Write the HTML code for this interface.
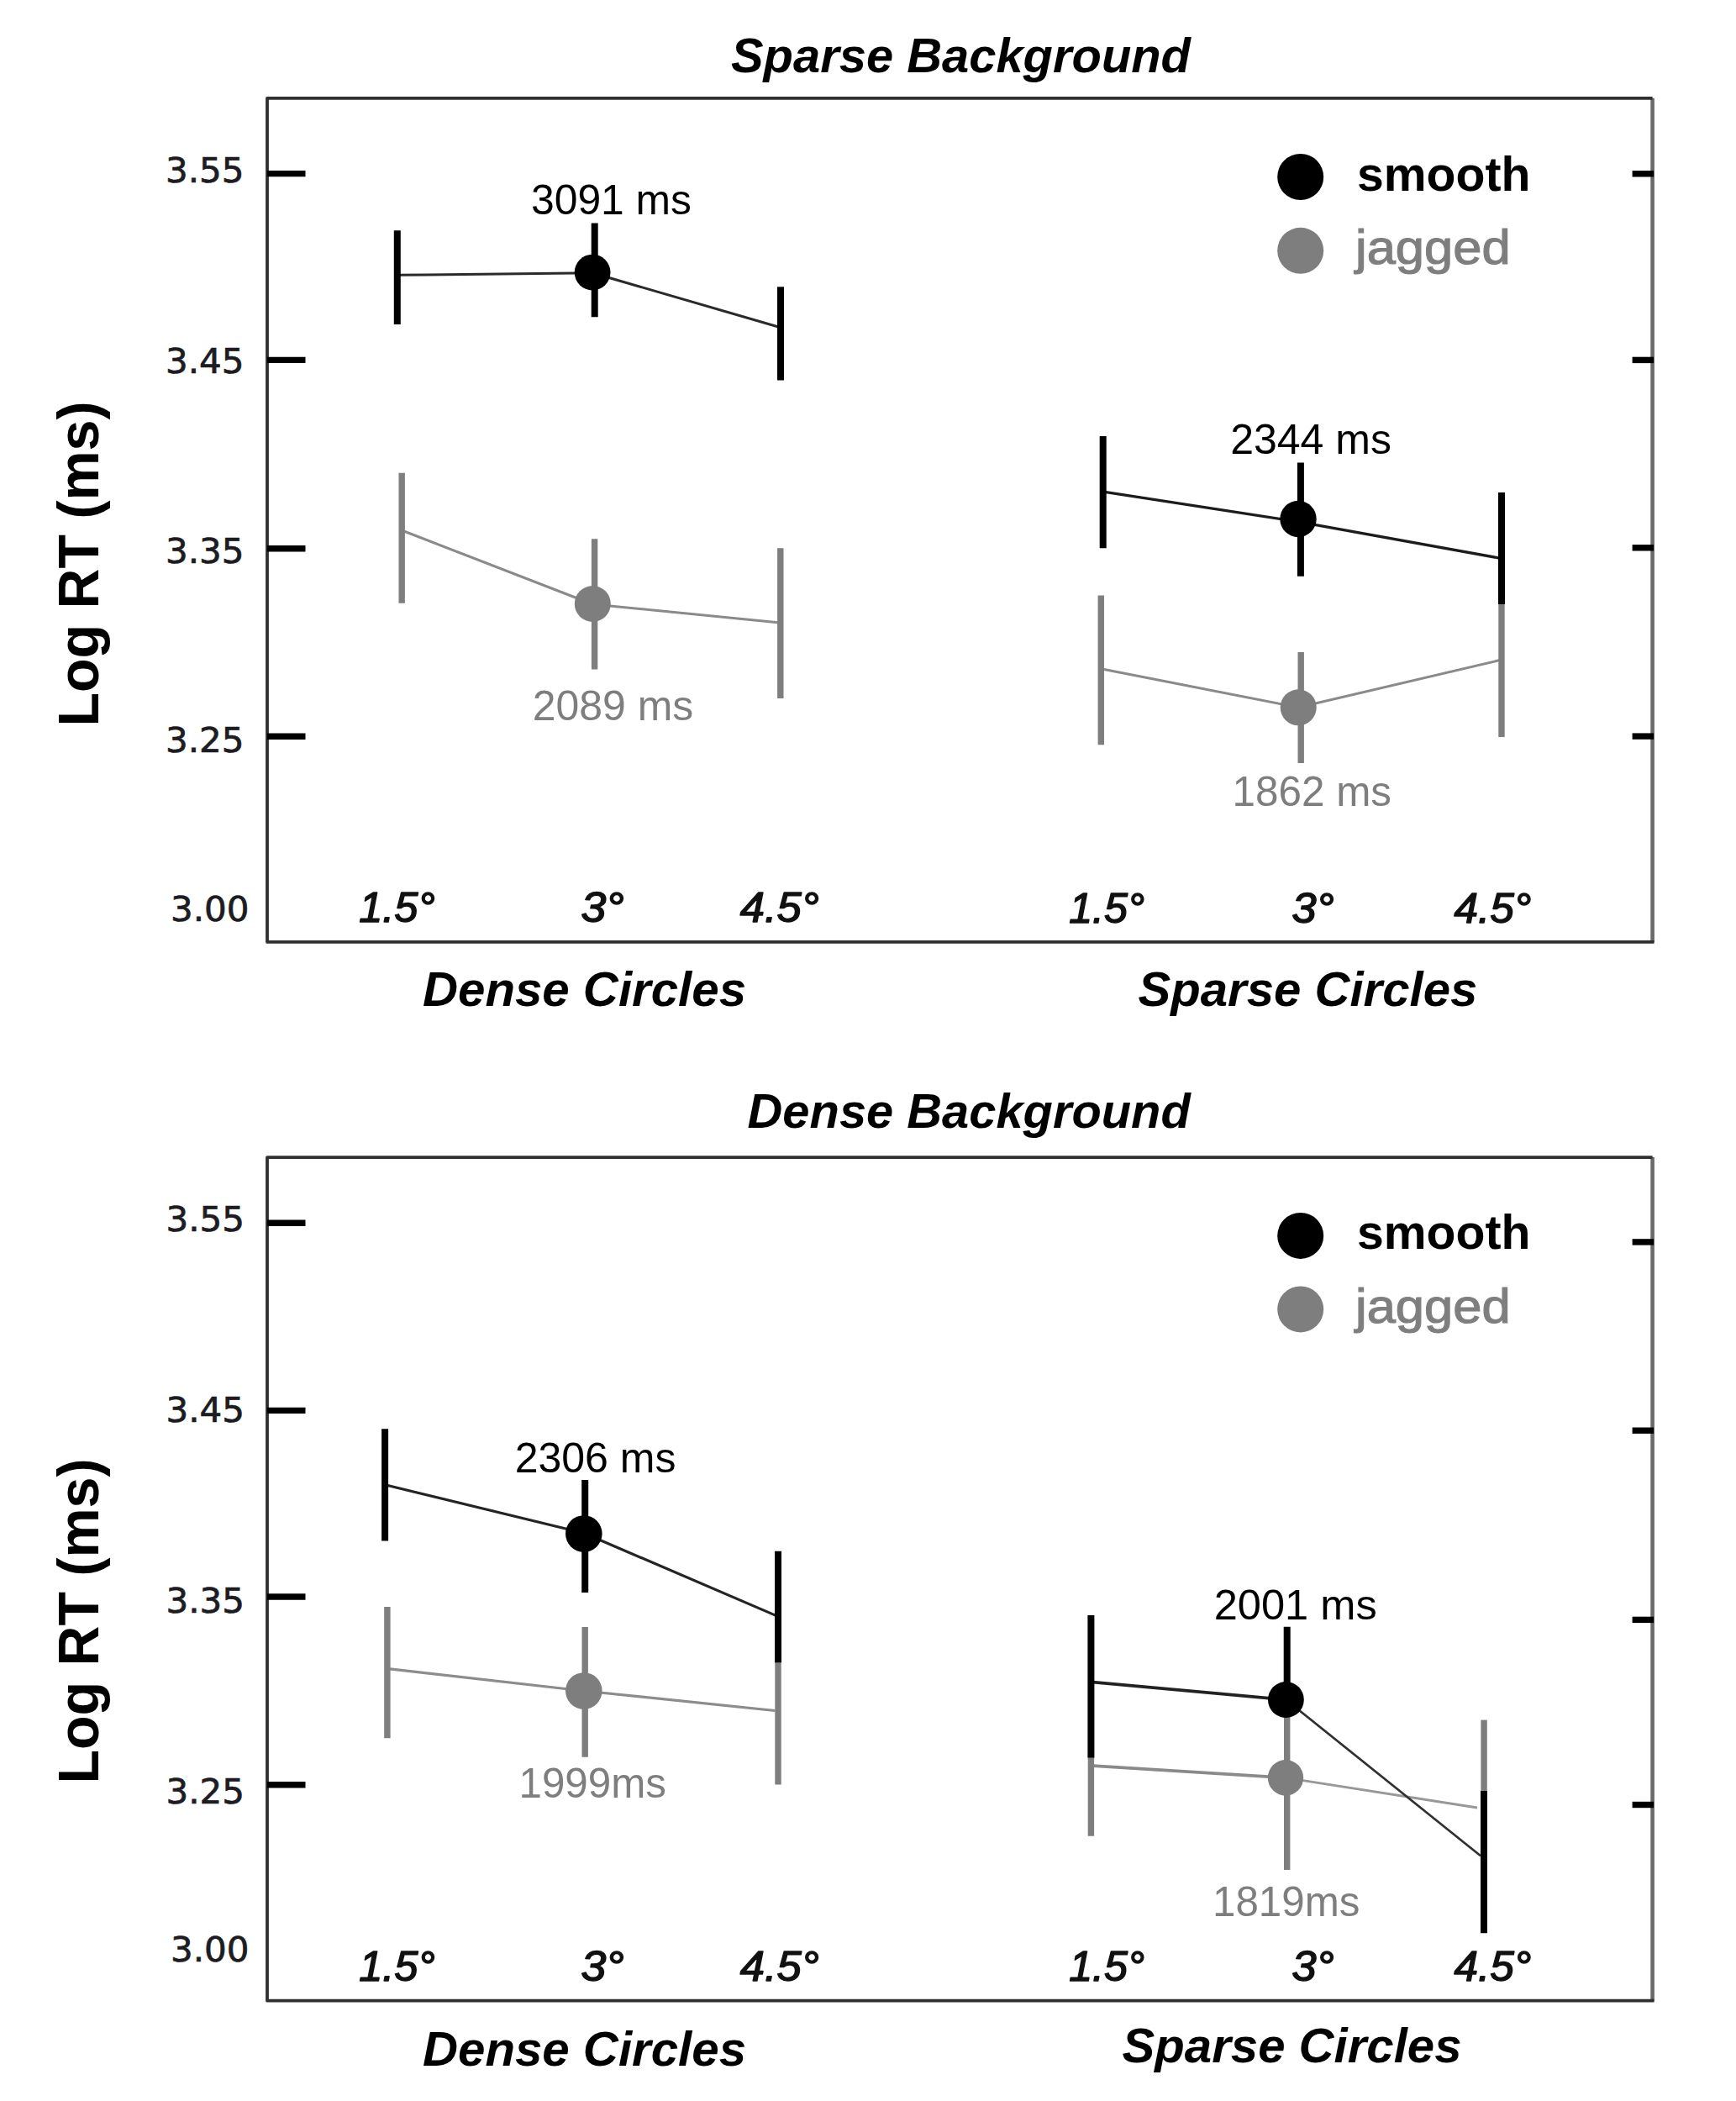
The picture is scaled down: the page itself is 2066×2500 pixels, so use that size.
<!DOCTYPE html>
<html><head><meta charset="utf-8"><title>Log RT chart</title>
<style>
html,body{margin:0;padding:0;background:#fff;}
svg{display:block;}
text{font-family:"Liberation Sans",sans-serif;}
.yt{font-family:"DejaVu Sans","Liberation Sans",sans-serif;font-size:40px;fill:#1c1c22;stroke:#1c1c22;stroke-width:0.7px;}
.xt{font-family:"Liberation Sans",sans-serif;font-size:50px;font-weight:normal;font-style:italic;fill:#111;stroke:#111;stroke-width:1.5px;stroke-linejoin:round;}
.big{font-size:58px;font-weight:bold;font-style:italic;fill:#000;}
.ann{font-size:50px;}
.lgb{font-size:57px;font-weight:bold;fill:#000;}
.lg{font-size:57px;stroke:#808080;stroke-width:1.2px;}
.ylab{font-size:68px;font-weight:bold;fill:#000;}
</style></head><body>
<svg width="2066" height="2500" viewBox="0 0 2066 2500">
<rect width="2066" height="2500" fill="#fff"/>
<line x1="473" y1="327.3" x2="705.2" y2="324.8" stroke="#2a2a2a" stroke-width="3.0" stroke-linecap="butt"/>
<line x1="705.2" y1="324.8" x2="929" y2="389.8" stroke="#2a2a2a" stroke-width="3.0" stroke-linecap="butt"/>
<line x1="478" y1="631" x2="705.4" y2="719" stroke="#8a8a8a" stroke-width="3.0" stroke-linecap="butt"/>
<line x1="705.4" y1="719" x2="928.3" y2="741" stroke="#8a8a8a" stroke-width="3.0" stroke-linecap="butt"/>
<line x1="1313" y1="585.2" x2="1545.2" y2="620.8" stroke="#1c1c1c" stroke-width="3.3" stroke-linecap="butt"/>
<line x1="1545.2" y1="620.8" x2="1786" y2="664.3" stroke="#1c1c1c" stroke-width="3.3" stroke-linecap="butt"/>
<line x1="1312.7" y1="796.2" x2="1545.2" y2="841.8" stroke="#8a8a8a" stroke-width="3.0" stroke-linecap="butt"/>
<line x1="1545.2" y1="841.8" x2="1785" y2="785.5" stroke="#8a8a8a" stroke-width="3.0" stroke-linecap="butt"/>
<line x1="472.8" y1="274.3" x2="472.8" y2="386.1" stroke="#000" stroke-width="8" stroke-linecap="butt"/>
<line x1="707.7" y1="265.4" x2="707.7" y2="377.3" stroke="#000" stroke-width="8" stroke-linecap="butt"/>
<line x1="929" y1="341.3" x2="929" y2="452.5" stroke="#000" stroke-width="8" stroke-linecap="butt"/>
<line x1="478.2" y1="562.8" x2="478.2" y2="717.8" stroke="#7e7e7e" stroke-width="7.4" stroke-linecap="butt"/>
<line x1="707.6" y1="641.2" x2="707.6" y2="796.6" stroke="#7e7e7e" stroke-width="7.4" stroke-linecap="butt"/>
<line x1="928.8" y1="652.3" x2="928.8" y2="831" stroke="#7e7e7e" stroke-width="7.4" stroke-linecap="butt"/>
<line x1="1312.7" y1="519" x2="1312.7" y2="652.3" stroke="#000" stroke-width="8" stroke-linecap="butt"/>
<line x1="1547.9" y1="550.4" x2="1547.9" y2="685.7" stroke="#000" stroke-width="8" stroke-linecap="butt"/>
<line x1="1787" y1="586" x2="1787" y2="719" stroke="#000" stroke-width="8" stroke-linecap="butt"/>
<line x1="1310.3" y1="708.4" x2="1310.3" y2="886.2" stroke="#7e7e7e" stroke-width="7.4" stroke-linecap="butt"/>
<line x1="1548.2" y1="776" x2="1548.2" y2="908" stroke="#7e7e7e" stroke-width="7.4" stroke-linecap="butt"/>
<line x1="1787" y1="719" x2="1787" y2="877" stroke="#7e7e7e" stroke-width="7.4" stroke-linecap="butt"/>
<circle cx="705.1" cy="324.1" r="21.4" fill="#000"/>
<circle cx="705.3" cy="718.5" r="21.5" fill="#7e7e7e"/>
<circle cx="1545" cy="617.5" r="21.7" fill="#000"/>
<circle cx="1545.2" cy="841.8" r="21.5" fill="#7e7e7e"/>
<line x1="1966.6" y1="116.8" x2="1966.6" y2="1120.9" stroke="#6a6a6a" stroke-width="4.6" stroke-linecap="butt"/>
<polyline points="1966.6,116.8 318,116.8 318,1120.9 1968.6,1120.9" fill="none" stroke="#303030" stroke-width="3.8" stroke-linejoin="round"/>
<line x1="318" y1="206.6" x2="363.5" y2="206.6" stroke="#000" stroke-width="7.4" stroke-linecap="butt"/>
<line x1="318" y1="428.4" x2="363.5" y2="428.4" stroke="#000" stroke-width="7.4" stroke-linecap="butt"/>
<line x1="318" y1="652.8" x2="363.5" y2="652.8" stroke="#000" stroke-width="7.4" stroke-linecap="butt"/>
<line x1="318" y1="876.2" x2="363.5" y2="876.2" stroke="#000" stroke-width="7.4" stroke-linecap="butt"/>
<line x1="1942.6" y1="206.8" x2="1968.1" y2="206.8" stroke="#000" stroke-width="7.4" stroke-linecap="butt"/>
<line x1="1942.6" y1="428.4" x2="1968.1" y2="428.4" stroke="#000" stroke-width="7.4" stroke-linecap="butt"/>
<line x1="1942.6" y1="651.8" x2="1968.1" y2="651.8" stroke="#000" stroke-width="7.4" stroke-linecap="butt"/>
<line x1="1942.6" y1="876.1" x2="1968.1" y2="876.1" stroke="#000" stroke-width="7.4" stroke-linecap="butt"/>
<text x="197" y="217.2" class="yt" textLength="93.5" lengthAdjust="spacingAndGlyphs">3.55</text>
<text x="197" y="444.2" class="yt" textLength="93.5" lengthAdjust="spacingAndGlyphs">3.45</text>
<text x="197" y="669.8" class="yt" textLength="93.5" lengthAdjust="spacingAndGlyphs">3.35</text>
<text x="197" y="895.2" class="yt" textLength="93.5" lengthAdjust="spacingAndGlyphs">3.25</text>
<text x="203" y="1096.3" class="yt" textLength="93.5" lengthAdjust="spacingAndGlyphs">3.00</text>
<text x="427.2" y="1097.4" class="xt" textLength="90.5" lengthAdjust="spacingAndGlyphs">1.5°</text>
<text x="691.4" y="1097.4" class="xt" textLength="51.2" lengthAdjust="spacingAndGlyphs">3°</text>
<text x="880.7" y="1097.4" class="xt" textLength="94.0" lengthAdjust="spacingAndGlyphs">4.5°</text>
<text x="1272.2" y="1098" class="xt" textLength="89.8" lengthAdjust="spacingAndGlyphs">1.5°</text>
<text x="1537.6" y="1098" class="xt" textLength="50.0" lengthAdjust="spacingAndGlyphs">3°</text>
<text x="1730.4" y="1098" class="xt" textLength="91.8" lengthAdjust="spacingAndGlyphs">4.5°</text>
<text x="870" y="86.3" class="big" textLength="547" lengthAdjust="spacingAndGlyphs">Sparse Background</text>
<text x="503" y="1197.4" class="big" textLength="385" lengthAdjust="spacingAndGlyphs">Dense Circles</text>
<text x="1354.5" y="1197.4" class="big" textLength="403.8" lengthAdjust="spacingAndGlyphs">Sparse Circles</text>
<text x="632" y="254.7" class="ann" textLength="191" lengthAdjust="spacingAndGlyphs" fill="#000">3091 ms</text>
<text x="633.7" y="857" class="ann" textLength="191.6" lengthAdjust="spacingAndGlyphs" fill="#7e7e7e">2089 ms</text>
<text x="1464.2" y="540.3" class="ann" textLength="191.8" lengthAdjust="spacingAndGlyphs" fill="#000">2344 ms</text>
<text x="1466.5" y="959" class="ann" textLength="189.5" lengthAdjust="spacingAndGlyphs" fill="#7e7e7e">1862 ms</text>
<circle cx="1547.7" cy="210.5" r="27.5" fill="#000"/>
<circle cx="1547.7" cy="298.3" r="27.5" fill="#7e7e7e"/>
<text x="1615" y="226.5" class="lgb" textLength="206.4" lengthAdjust="spacingAndGlyphs">smooth</text>
<text x="1613" y="314.3" class="lg" textLength="184.6" lengthAdjust="spacingAndGlyphs" fill="#7e7e7e">jagged</text>
<text transform="translate(117,671) rotate(-90)" class="ylab" text-anchor="middle" textLength="387" lengthAdjust="spacingAndGlyphs">Log RT (ms)</text>
<line x1="464" y1="1985.8" x2="694.8" y2="2012" stroke="#8c8c8c" stroke-width="3.2" stroke-linecap="butt"/>
<line x1="694.8" y1="2012" x2="922.3" y2="2035.5" stroke="#8c8c8c" stroke-width="3.2" stroke-linecap="butt"/>
<line x1="458.2" y1="1766.8" x2="694.8" y2="1824.2" stroke="#242424" stroke-width="3.2" stroke-linecap="butt"/>
<line x1="694.8" y1="1824.2" x2="924" y2="1922.6" stroke="#242424" stroke-width="3.2" stroke-linecap="butt"/>
<line x1="1300.8" y1="2101.1" x2="1530" y2="2115.3" stroke="#8a8a8a" stroke-width="3.8" stroke-linecap="butt"/>
<line x1="1530" y1="2115.3" x2="1758" y2="2151" stroke="#989898" stroke-width="2.8" stroke-linecap="butt"/>
<line x1="1300.8" y1="2001.7" x2="1530.4" y2="2022.5" stroke="#222" stroke-width="3.8" stroke-linecap="butt"/>
<line x1="1530.4" y1="2022.5" x2="1762" y2="2208.2" stroke="#303030" stroke-width="2.7" stroke-linecap="butt"/>
<line x1="460.9" y1="1912" x2="460.9" y2="2068.2" stroke="#7e7e7e" stroke-width="7.4" stroke-linecap="butt"/>
<line x1="696.2" y1="1936" x2="696.2" y2="2090.7" stroke="#7e7e7e" stroke-width="7.4" stroke-linecap="butt"/>
<line x1="926" y1="1978" x2="926" y2="2123.5" stroke="#7e7e7e" stroke-width="7.4" stroke-linecap="butt"/>
<line x1="458.1" y1="1700.3" x2="458.1" y2="1833.6" stroke="#000" stroke-width="8" stroke-linecap="butt"/>
<line x1="696.2" y1="1760.9" x2="696.2" y2="1895" stroke="#000" stroke-width="8" stroke-linecap="butt"/>
<line x1="926" y1="1845.7" x2="926" y2="1978.3" stroke="#000" stroke-width="8" stroke-linecap="butt"/>
<line x1="1298.4" y1="2090" x2="1298.4" y2="2184.8" stroke="#7e7e7e" stroke-width="7.4" stroke-linecap="butt"/>
<line x1="1531.7" y1="2022" x2="1531.7" y2="2225" stroke="#7e7e7e" stroke-width="7.4" stroke-linecap="butt"/>
<line x1="1766.1" y1="2046.6" x2="1766.1" y2="2131" stroke="#7e7e7e" stroke-width="7.4" stroke-linecap="butt"/>
<line x1="1298.4" y1="1922" x2="1298.4" y2="2091.4" stroke="#000" stroke-width="8" stroke-linecap="butt"/>
<line x1="1531.7" y1="1935.7" x2="1531.7" y2="2022" stroke="#000" stroke-width="8" stroke-linecap="butt"/>
<line x1="1766" y1="2130.9" x2="1766" y2="2300.3" stroke="#000" stroke-width="8" stroke-linecap="butt"/>
<circle cx="694.8" cy="2012" r="21.8" fill="#7e7e7e"/>
<circle cx="694.8" cy="1825" r="21.8" fill="#000"/>
<circle cx="1530" cy="2115.3" r="21.2" fill="#7e7e7e"/>
<circle cx="1530.4" cy="2022.5" r="21.4" fill="#000"/>
<line x1="1966.6" y1="1377.1" x2="1966.6" y2="2380.7" stroke="#6a6a6a" stroke-width="4.6" stroke-linecap="butt"/>
<polyline points="1966.6,1377.1 318,1377.1 318,2380.7 1968.6,2380.7" fill="none" stroke="#303030" stroke-width="3.8" stroke-linejoin="round"/>
<line x1="318" y1="1455.3" x2="363.5" y2="1455.3" stroke="#000" stroke-width="7.4" stroke-linecap="butt"/>
<line x1="318" y1="1678.4" x2="363.5" y2="1678.4" stroke="#000" stroke-width="7.4" stroke-linecap="butt"/>
<line x1="318" y1="1900" x2="363.5" y2="1900" stroke="#000" stroke-width="7.4" stroke-linecap="butt"/>
<line x1="318" y1="2123.7" x2="363.5" y2="2123.7" stroke="#000" stroke-width="7.4" stroke-linecap="butt"/>
<line x1="1942.6" y1="1477.9" x2="1968.1" y2="1477.9" stroke="#000" stroke-width="7.4" stroke-linecap="butt"/>
<line x1="1942.6" y1="1702.2" x2="1968.1" y2="1702.2" stroke="#000" stroke-width="7.4" stroke-linecap="butt"/>
<line x1="1942.6" y1="1927.4" x2="1968.1" y2="1927.4" stroke="#000" stroke-width="7.4" stroke-linecap="butt"/>
<line x1="1942.6" y1="2147.5" x2="1968.1" y2="2147.5" stroke="#000" stroke-width="7.4" stroke-linecap="butt"/>
<text x="197.5" y="1464.9" class="yt" textLength="93.5" lengthAdjust="spacingAndGlyphs">3.55</text>
<text x="197.5" y="1691.5" class="yt" textLength="93.5" lengthAdjust="spacingAndGlyphs">3.45</text>
<text x="197.5" y="1918.6" class="yt" textLength="93.5" lengthAdjust="spacingAndGlyphs">3.35</text>
<text x="197.5" y="2145.7" class="yt" textLength="93.5" lengthAdjust="spacingAndGlyphs">3.25</text>
<text x="203" y="2334.4" class="yt" textLength="93.5" lengthAdjust="spacingAndGlyphs">3.00</text>
<text x="427.2" y="2356.6" class="xt" textLength="90.5" lengthAdjust="spacingAndGlyphs">1.5°</text>
<text x="691.4" y="2356.6" class="xt" textLength="51.2" lengthAdjust="spacingAndGlyphs">3°</text>
<text x="880.7" y="2356.6" class="xt" textLength="94.0" lengthAdjust="spacingAndGlyphs">4.5°</text>
<text x="1272.2" y="2356.6" class="xt" textLength="89.8" lengthAdjust="spacingAndGlyphs">1.5°</text>
<text x="1537.6" y="2356.6" class="xt" textLength="50.0" lengthAdjust="spacingAndGlyphs">3°</text>
<text x="1730.4" y="2356.6" class="xt" textLength="91.8" lengthAdjust="spacingAndGlyphs">4.5°</text>
<text x="889.6" y="1342.2" class="big" textLength="527.2" lengthAdjust="spacingAndGlyphs">Dense Background</text>
<text x="503" y="2458.2" class="big" textLength="385" lengthAdjust="spacingAndGlyphs">Dense Circles</text>
<text x="1335.6" y="2454.4" class="big" textLength="403.9" lengthAdjust="spacingAndGlyphs">Sparse Circles</text>
<text x="612.7" y="1752.2" class="ann" textLength="191.8" lengthAdjust="spacingAndGlyphs" fill="#000">2306 ms</text>
<text x="617.5" y="2139.3" class="ann" textLength="175.5" lengthAdjust="spacingAndGlyphs" fill="#7e7e7e">1999ms</text>
<text x="1444.7" y="1927.4" class="ann" textLength="194.0" lengthAdjust="spacingAndGlyphs" fill="#000">2001 ms</text>
<text x="1443" y="2280" class="ann" textLength="175.5" lengthAdjust="spacingAndGlyphs" fill="#7e7e7e">1819ms</text>
<circle cx="1547.7" cy="1470.4" r="27.5" fill="#000"/>
<circle cx="1547.7" cy="1557.9" r="27.5" fill="#7e7e7e"/>
<text x="1615" y="1486.4" class="lgb" textLength="206.4" lengthAdjust="spacingAndGlyphs">smooth</text>
<text x="1613" y="1573.9" class="lg" textLength="184.6" lengthAdjust="spacingAndGlyphs" fill="#7e7e7e">jagged</text>
<text transform="translate(117,1929) rotate(-90)" class="ylab" text-anchor="middle" textLength="387" lengthAdjust="spacingAndGlyphs">Log RT (ms)</text>
</svg></body></html>
